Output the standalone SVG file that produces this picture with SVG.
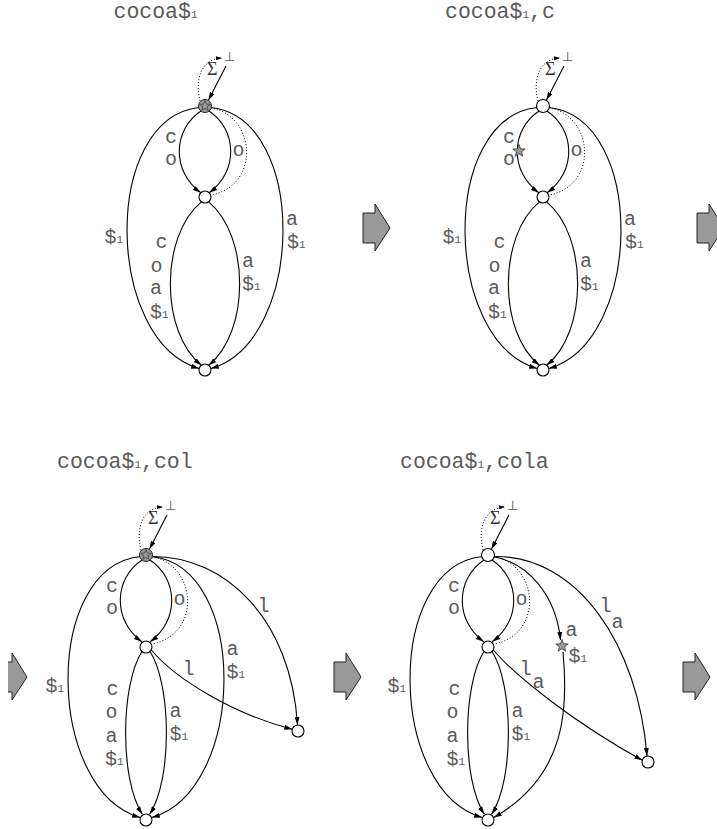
<svg xmlns="http://www.w3.org/2000/svg" width="717" height="829" viewBox="0 0 717 829">
<defs>
  <marker id="ah" viewBox="0 0 8 5" refX="8" refY="2.5" markerWidth="8" markerHeight="5" markerUnits="userSpaceOnUse" orient="auto">
    <path d="M0,0 L8,2.5 L0,5 z" fill="#000"/>
  </marker>
  <marker id="ahs" viewBox="0 0 6 4" refX="6" refY="2" markerWidth="6" markerHeight="4" markerUnits="userSpaceOnUse" orient="auto">
    <path d="M0,0 L6,2 L0,4 z" fill="#000"/>
  </marker>
  <path id="star" d="M0,-6.5 L1.59,-2.18 L6.18,-2.01 L2.57,0.83 L3.82,5.26 L0,2.7 L-3.82,5.26 L-2.57,0.83 L-6.18,-2.01 L-1.59,-2.18 Z"/>
  <polygon id="blk" points="0,9 12,9 12,0 27,24 12,47 12,39 0,39"/>
</defs>
<style>
  .e{fill:none;stroke:#000;stroke-width:1.1}
  .a{marker-end:url(#ah)}
  .d{fill:none;stroke:#000;stroke-width:1;stroke-dasharray:1 2}
  .ds{marker-end:url(#ahs)}
  .n{fill:#fff;stroke:#000;stroke-width:1.1}
  .r{fill:#999;stroke:#222;stroke-width:1}
  .s{fill:#999;stroke:#333;stroke-width:0.8}
  .t{font-family:"Liberation Mono",monospace;font-size:21.5px;fill:#5a5a5a}
  .l{font-family:"Liberation Mono",monospace;font-size:20px;fill:#5a5a5a}
  .u{font-size:11px}
  .g{font-family:"Liberation Serif",serif;font-size:18px;fill:#333}
  .b{font-family:"DejaVu Sans",sans-serif;font-size:13px;fill:#555}
  .blk{fill:#999;stroke:#222;stroke-width:1}
</style>
<rect width="717" height="829" fill="#fff"/>

<!-- step arrows between the snapshots -->
<g id="steps">
  <use href="#blk" class="blk" transform="translate(363,204)"/>
  <use href="#blk" class="blk" transform="translate(697,204)"/>
  <path class="blk" d="M8,662 L12,662 L12,653 L27,677 L12,700 L12,692 L8,692"/>
  <use href="#blk" class="blk" transform="translate(334,653)"/>
  <use href="#blk" class="blk" transform="translate(683,653)"/>
</g>

<!-- snapshot 1: cocoa$1 -->
<g id="s1" transform="translate(205,106)">
  <text class="t" x="-91.5" y="-88">cocoa$<tspan class="u">1</tspan></text>
  <g id="s1-edges">
    <path class="d ds" d="M-5,-5 C-10,-25 -5,-47 17,-48"/>
    <path class="e a" d="M21,-40 L3.5,-6"/>
    <path class="e a" d="M-3.6,4.8 C-33,24 -33,66 -4.2,86.7"/>
    <path class="e a" d="M3.6,4.8 C33,24 33,66 4.2,86.7"/>
    <path class="d" d="M5.8,1.8 C50,9 57,79 5.7,89.2"/>
    <path class="e a" d="M-5.8,1.5 C-104,12 -100,236 -5.8,262.5"/>
    <path class="e a" d="M5.8,1.5 C104,12 100,236 5.8,262.5"/>
    <path class="e a" d="M-3.6,95.8 C-45,130 -45,226 -3.6,259.2"/>
    <path class="e a" d="M3.6,95.8 C45,130 45,226 3.6,259.2"/>
  </g>
  <text class="b" x="19" y="-45">⊥</text>
  <text class="g" x="2" y="-31">Σ</text>
  <g class="l">
    <text x="-40" y="37">c</text><text x="-40" y="59">o</text>
    <text x="27.5" y="50">o</text>
    <text x="-100.5" y="137">$<tspan class="u">1</tspan></text>
    <text x="81" y="119">a</text><text x="82" y="142">$<tspan class="u">1</tspan></text>
    <text x="-49.5" y="142">c</text><text x="-54.5" y="166">o</text>
    <text x="-55" y="188">a</text><text x="-55" y="212">$<tspan class="u">1</tspan></text>
    <text x="37" y="161">a</text><text x="37" y="184">$<tspan class="u">1</tspan></text>
  </g>
  <g id="s1-root"><circle class="r" r="6.5"/><use href="#star" class="s" transform="scale(0.85)"/></g>
  <g id="s1-mid"><circle class="n" cy="91" r="6"/></g>
  <g id="s1-leaf"><circle class="n" cy="264" r="6"/></g>
</g>

<!-- snapshot 2: cocoa$1,c -->
<g id="s2" transform="translate(543,106)">
  <text class="t" x="-98" y="-88">cocoa$<tspan class="u">1</tspan>,c</text>
  <g id="s2-edges">
    <path class="d ds" d="M-5,-5 C-10,-25 -5,-47 17,-48"/>
    <path class="e a" d="M21,-40 L3.5,-6"/>
    <path class="e a" d="M-3.6,4.8 C-33,24 -33,66 -4.2,86.7"/>
    <path class="e a" d="M3.6,4.8 C33,24 33,66 4.2,86.7"/>
    <path class="d" d="M5.8,1.8 C50,9 57,79 5.7,89.2"/>
    <path class="e a" d="M-5.8,1.5 C-104,12 -100,236 -5.8,262.5"/>
    <path class="e a" d="M5.8,1.5 C104,12 100,236 5.8,262.5"/>
    <path class="e a" d="M-3.6,95.8 C-45,130 -45,226 -3.6,259.2"/>
    <path class="e a" d="M3.6,95.8 C45,130 45,226 3.6,259.2"/>
  </g>
  <text class="b" x="19" y="-45">⊥</text>
  <text class="g" x="2" y="-31">Σ</text>
  <g class="l">
    <text x="-40" y="37">c</text><text x="-40" y="59">o</text>
    <text x="27.5" y="50">o</text>
    <text x="-100.5" y="137">$<tspan class="u">1</tspan></text>
    <text x="81" y="119">a</text><text x="82" y="142">$<tspan class="u">1</tspan></text>
    <text x="-49.5" y="142">c</text><text x="-54.5" y="166">o</text>
    <text x="-55" y="188">a</text><text x="-55" y="212">$<tspan class="u">1</tspan></text>
    <text x="37" y="161">a</text><text x="37" y="184">$<tspan class="u">1</tspan></text>
  </g>
  <g id="s2-active"><use href="#star" class="s" transform="translate(-24,45)"/></g>
  <g id="s2-root"><circle class="n" r="6.5"/></g>
  <g id="s2-mid"><circle class="n" cy="91" r="6"/></g>
  <g id="s2-leaf"><circle class="n" cy="264" r="6"/></g>
</g>

<!-- snapshot 3: cocoa$1,col -->
<g id="s3" transform="translate(146,555)">
  <text class="t" x="-89" y="-87">cocoa$<tspan class="u">1</tspan>,col</text>
  <g id="s3-edges">
    <path class="d ds" d="M-5,-5 C-10,-25 -5,-47 17,-48"/>
    <path class="e a" d="M21,-40 L3.5,-6"/>
    <path class="e a" d="M-3.6,4.8 C-33,24 -33,66 -4.2,86.7"/>
    <path class="e a" d="M3.6,4.8 C33,24 33,66 4.2,86.7"/>
    <path class="d" d="M5.8,1.8 C50,9 57,79 5.7,89.2"/>
    <path class="e a" d="M-5.8,1.5 C-104,12 -100,236 -5.8,262.5"/>
    <path class="e a" d="M5.8,1.5 C104,12 100,236 5.8,262.5"/>
    <path class="e a" d="M-3.6,95.8 C-26,130 -26,226 -3.6,259.2"/>
    <path class="e a" d="M3.6,95.8 C26,130 26,226 3.6,259.2"/>
    <path class="e a" d="M5.8,1.5 C80,1 145,65 151.5,169.8"/>
    <path class="e a" d="M5,94.5 C30,125 90,160 146.3,174.2"/>
  </g>
  <text class="b" x="19" y="-45">⊥</text>
  <text class="g" x="2" y="-31">Σ</text>
  <g class="l">
    <text x="-40" y="37">c</text><text x="-40" y="59">o</text>
    <text x="27.5" y="50">o</text>
    <text x="-100.5" y="137">$<tspan class="u">1</tspan></text>
    <text x="80.5" y="100">a</text><text x="80.5" y="123">$<tspan class="u">1</tspan></text>
    <text x="111.5" y="57">l</text>
    <text x="36.5" y="120">l</text>
    <text x="-39.5" y="140">c</text><text x="-40.5" y="163">o</text>
    <text x="-40.5" y="187">a</text><text x="-41" y="210">$<tspan class="u">1</tspan></text>
    <text x="23.5" y="162">a</text><text x="23.5" y="185">$<tspan class="u">1</tspan></text>
  </g>
  <g id="s3-root"><circle class="r" r="6.5"/><use href="#star" class="s" transform="scale(0.85)"/></g>
  <g id="s3-mid"><circle class="n" cy="92" r="6"/></g>
  <g id="s3-leaf"><circle class="n" cy="265" r="6"/></g>
  <g id="s3-new"><circle class="n" cx="152" cy="176" r="6"/></g>
</g>

<!-- snapshot 4: cocoa$1,cola -->
<g id="s4" transform="translate(488,555)">
  <text class="t" x="-88" y="-87">cocoa$<tspan class="u">1</tspan>,cola</text>
  <g id="s4-edges">
    <path class="d ds" d="M-5,-5 C-10,-25 -5,-47 17,-48"/>
    <path class="e a" d="M21,-40 L3.5,-6"/>
    <path class="e a" d="M-3.6,4.8 C-33,24 -33,66 -4.2,86.7"/>
    <path class="e a" d="M3.6,4.8 C33,24 33,66 4.2,86.7"/>
    <path class="d" d="M5.8,1.8 C50,9 57,79 5.7,89.2"/>
    <path class="e a" d="M-5.8,1.5 C-104,12 -100,236 -5.8,262.5"/>
    <path class="e a" d="M5.8,1.8 C40,8 68,40 72.5,85"/>
    <path class="e a" d="M75,97 C80,150 80,220 5.8,262.5"/>
    <path class="e a" d="M-3.6,95.8 C-26,130 -26,226 -3.6,259.2"/>
    <path class="e a" d="M3.6,95.8 C26,130 26,226 3.6,259.2"/>
    <path class="e a" d="M5.8,1.5 C90,0 150,90 159,201"/>
    <path class="e a" d="M5,94.5 C28,122 90,170 154.3,205.2"/>
  </g>
  <text class="b" x="19" y="-45">⊥</text>
  <text class="g" x="2" y="-31">Σ</text>
  <g class="l">
    <text x="-40" y="37">c</text><text x="-40" y="59">o</text>
    <text x="27.5" y="50">o</text>
    <text x="-100.5" y="137">$<tspan class="u">1</tspan></text>
    <text x="77.5" y="81">a</text><text x="80.5" y="107">$<tspan class="u">1</tspan></text>
    <text x="111.5" y="57">l</text><text x="123.5" y="73">a</text>
    <text x="31.5" y="120">l</text><text x="44.5" y="133">a</text>
    <text x="-39.5" y="140">c</text><text x="-41.5" y="163">o</text>
    <text x="-41.5" y="187">a</text><text x="-41.5" y="210">$<tspan class="u">1</tspan></text>
    <text x="23.5" y="162">a</text><text x="23.5" y="185">$<tspan class="u">1</tspan></text>
  </g>
  <g id="s4-active"><use href="#star" class="s" transform="translate(74,91)"/></g>
  <g id="s4-root"><circle class="n" r="6.5"/></g>
  <g id="s4-mid"><circle class="n" cy="92" r="6"/></g>
  <g id="s4-leaf"><circle class="n" cy="265" r="6"/></g>
  <g id="s4-new"><circle class="n" cx="160" cy="207" r="6"/></g>
</g>
</svg>
